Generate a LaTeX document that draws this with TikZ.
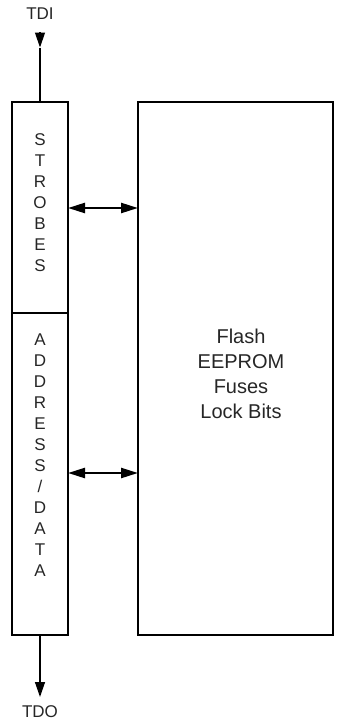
\documentclass[tikz,border=0pt]{standalone}
\usepackage{fontspec}
\setmainfont{Liberation Sans}
\usetikzlibrary{arrows.meta}
\begin{document}
\begin{tikzpicture}[x=1pt,y=-1pt,
  box/.style={draw,line width=2.2pt},
  lbl/.style={font=\fontsize{17}{21}\selectfont,align=center,inner sep=0pt,text=black!85},
  big/.style={font=\fontsize{20}{25}\selectfont,align=center,inner sep=0pt,text=black!85},
  sig/.style={line width=1.3pt,-{Triangle[length=15pt,width=10pt]}},
  bus/.style={line width=2.4pt,{Triangle[length=17pt,width=10pt]}-{Triangle[length=17pt,width=10pt]}}]
\useasboundingbox (0,0) rectangle (341,723);
\draw[box] (12,102) rectangle (68,313);
\draw[box] (12,313) rectangle (68,635);
\draw[box] (138,102) rectangle (333,635);
\coordinate (stn) at (40,102);
\coordinate (adb) at (40,635);
\coordinate (sr) at (68,208);
\coordinate (ml1) at (138,208);
\coordinate (ar) at (68,473);
\coordinate (ml2) at (138,473);
\node[lbl] (stxt) at (40,203) {S\\T\\R\\O\\B\\E\\S};
\node[lbl] (atxt) at (40,455) {A\\D\\D\\R\\E\\S\\S\\/\\D\\A\\T\\A};
\node[big] (mem) at (241,374) {Flash\\EEPROM\\Fuses\\Lock Bits};
\node[lbl] (tdi) at (40,13.5) {TDI};
\node[lbl] (tdo) at (40,712) {TDO};
\coordinate (tdiend) at (40,32);
\coordinate (tdimid) at (40,47.5);
\coordinate (tdoend) at (40,697);
\draw[line width=1.3pt] (stn) -- (tdimid);
\draw[sig] (tdiend) -- (tdimid);
\draw[sig] (adb) -- (tdoend);
\draw[bus] (sr) -- (ml1);
\draw[bus] (ar) -- (ml2);
\end{tikzpicture}
\end{document}
